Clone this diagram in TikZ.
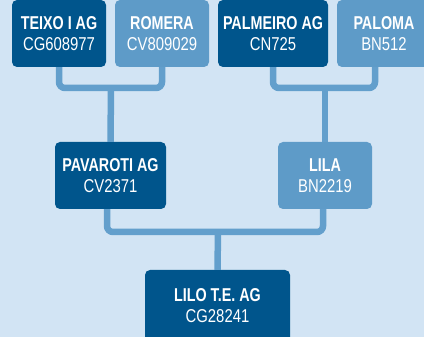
\documentclass[tikz,border=0pt]{standalone}
\usepackage{fontspec}
\setmainfont{Liberation Sans}[FakeStretch=0.80, BoldFeatures={FakeStretch=0.77}]
\usetikzlibrary{calc}
\definecolor{bg}{HTML}{D2E4F4}
\definecolor{darkbox}{HTML}{00558C}
\definecolor{lightbox}{HTML}{5E9BC8}
\definecolor{conn}{HTML}{639FCC}
\tikzset{
  box/.style={rounded corners=5pt, inner sep=0pt, align=center, text=white,
    font=\fontsize{18.6}{21}\selectfont, minimum height=67pt},
  darkb/.style={box, fill=darkbox},
  lightb/.style={box, fill=lightbox},
  link/.style={draw=conn, line width=6.5pt, rounded corners=6pt}
}
\begin{document}
\begin{tikzpicture}[x=1pt,y=-1pt]
\useasboundingbox (0,0) rectangle (424,337);
\clip (0,0) rectangle (424,337);
\fill[bg] (0,0) rectangle (424,337);
\coordinate (j1) at (111,88);
\coordinate (j2) at (325,88);
\coordinate (j3) at (218,232);
\node[darkb, minimum width=94pt] (teixo) at (59,33.5) {\textbf{TEIXO I AG}\\CG608977};
\node[lightb, minimum width=94pt] (romera) at (162,33.5) {\textbf{ROMERA}\\CV809029};
\node[darkb, minimum width=110pt] (palmeiro) at (273,33.5) {\textbf{PALMEIRO AG}\\CN725};
\node[lightb, minimum width=94pt] (paloma) at (384,33.5) {\textbf{PALOMA}\\BN512};
\node[darkb, minimum width=111pt] (pav) at (110.5,175.5) {\textbf{PAVAROTI AG}\\CV2371};
\node[lightb, minimum width=94pt] (lila) at (325,175.5) {\textbf{LILA}\\BN2219};
\node[darkb, minimum width=145pt, minimum height=72pt] (lilo) at (217.5,306) {\textbf{LILO T.E. AG}\\CG28241};
\path[link] (teixo.south) |- (j1) -| (romera.south);
\path[link] (j1) -- (pav.north);
\path[link] (palmeiro.south) |- (j2) -| ($(paloma.south)+(-9,0)$);
\path[link] (j2) -- (lila.north);
\path[link] ($(pav.south)+(-3.5,0)$) |- (j3) -| ($(lila.south)+(-2,0)$);
\path[link] (j3) -- (lilo.north);
\end{tikzpicture}
\end{document}
